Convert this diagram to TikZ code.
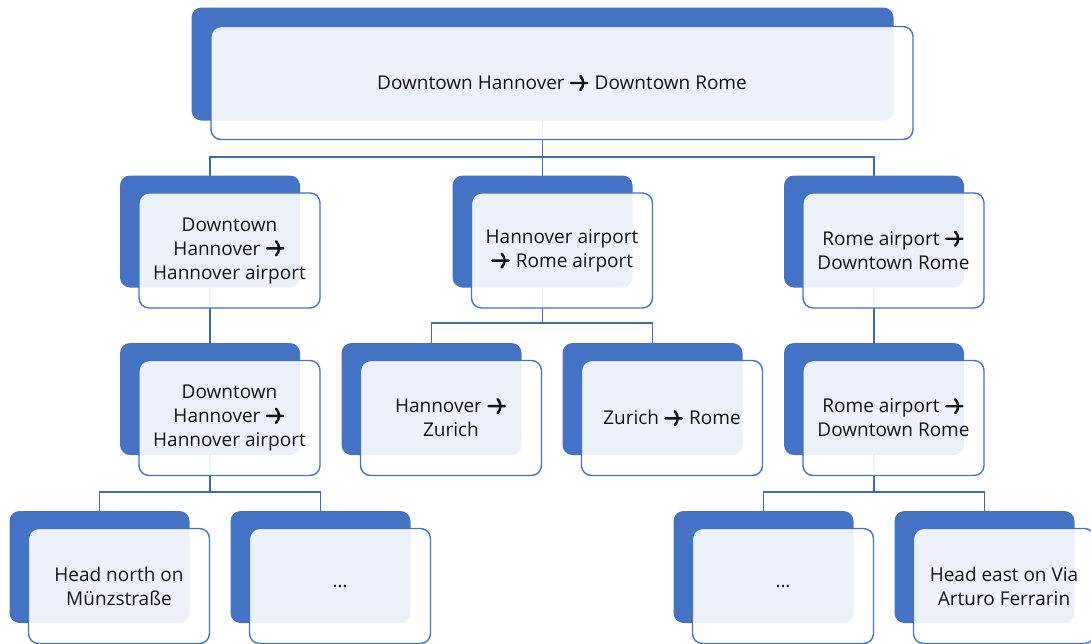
\documentclass[tikz,border=0pt]{standalone}
\usepackage{fontspec}
\setmainfont{Open Sans}
\usetikzlibrary{calc}
\definecolor{accent}{RGB}{68,114,196}
\definecolor{linkblue}{RGB}{64,104,180}
\definecolor{ink}{RGB}{20,20,20}
% open-headed arrow used inside the labels
\newcommand{\ra}{\tikz[x=1em,y=1em,baseline=0pt]{%
  \path (-0.08,0) (0.98,0);
  \draw[ink, line width=0.13em, line cap=round, line join=round]
    (0,0.35)--(0.86,0.35) (0.54,0.04)--(0.86,0.35)--(0.54,0.66);}}
\tikzset{
  backcard/.style={draw=none, fill=accent, rounded corners=10pt,
    minimum width=180pt, minimum height=112pt, inner sep=0pt},
  frontcard/.style={draw=accent, line width=1.4pt, fill=white, fill opacity=0.9,
    text opacity=1, text=ink, rounded corners=10pt, align=center,
    minimum width=181pt, minimum height=115pt, inner sep=2pt,
    font=\fontsize{19pt}{24pt}\selectfont},
  link/.style={draw=linkblue, line width=1.3pt},
}
% one card = filled back panel + translucent front panel carrying the text
\newcommand{\card}[4][]{%
  \node[backcard,#1] (#2) at (#3) {};
  \node[frontcard,#1] (#2f) at ($(#3)+(19.5,19)$) {#4};
}
\begin{document}
\begin{tikzpicture}[x=1pt,y=-1pt]
\useasboundingbox (0,0) rectangle (1091,643);

% anchor points of the panels
\coordinate (c0) at (542.5,64);
\coordinate (c1) at (210,231.5);
\coordinate (c2) at (542.5,231.5);
\coordinate (c3) at (874,231.5);
\coordinate (c4) at (210,399);
\coordinate (c5) at (431.5,399);
\coordinate (c6) at (652.5,399);
\coordinate (c7) at (874,399);
\coordinate (c8) at (99.5,567);
\coordinate (c9) at (320.5,567);
\coordinate (c10) at (763.5,567);
\coordinate (c11) at (984.5,567);
\coordinate (j0) at (542.5,157);
\coordinate (j2) at (542.5,323);
\coordinate (j4) at (210,492);
\coordinate (j7) at (874,492);

% connectors (drawn first so the panels sit on top of them)
\path[link] (c0) -- (j0) -| (c1);
\path[link] (j0) -| (c2);
\path[link] (j0) -| (c3);
\path[link] (c1) -- (c4);
\path[link] (c2) -- (j2) -| (c5);
\path[link] (j2) -| (c6);
\path[link] (c3) -- (c7);
\path[link] (c4) -- (j4) -| (c8);
\path[link] (j4) -| (c9);
\path[link] (c7) -- (j7) -| (c10);
\path[link] (j7) -| (c11);

% top
\card[minimum width=702pt, minimum height=113pt]{root}{c0}{Downtown Hannover \ra\ Downtown Rome}

% first level
\card{leg1}{c1}{Downtown\\Hannover \ra\\Hannover airport}
\card{leg2}{c2}{Hannover airport\\\ra\ Rome airport}
\card{leg3}{c3}{Rome airport \ra\\Downtown Rome}

% second level
\card{sub1}{c4}{Downtown\\Hannover \ra\\Hannover airport}
\card{sub2}{c5}{Hannover \ra\\Zurich}
\card{sub3}{c6}{Zurich \ra\ Rome}
\card{sub4}{c7}{Rome airport \ra\\Downtown Rome}

% third level
\card{step1}{c8}{Head north on\\Münzstraße}
\card{step2}{c9}{…}
\card{step3}{c10}{…}
\card{step4}{c11}{Head east on Via\\Arturo Ferrarin}
\end{tikzpicture}
\end{document}
